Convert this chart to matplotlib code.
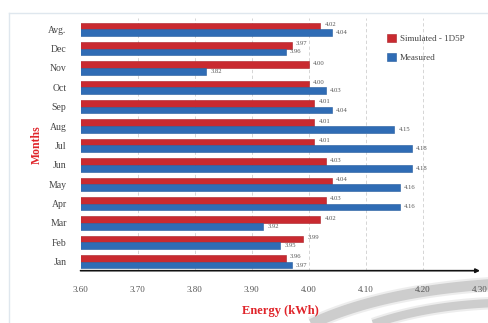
import numpy as np
import matplotlib
matplotlib.use("Agg")
import matplotlib.pyplot as plt
from matplotlib.patches import Patch

months = ["Jan", "Feb", "Mar", "Apr", "May", "Jun", "Jul", "Aug", "Sep", "Oct", "Nov", "Dec", "Avg."]
simulated = [3.96, 3.99, 4.02, 4.03, 4.04, 4.03, 4.01, 4.01, 4.01, 4.00, 4.00, 3.97, 4.02]
measured = [3.97, 3.95, 3.92, 4.16, 4.16, 4.18, 4.18, 4.15, 4.04, 4.03, 3.82, 3.96, 4.04]
xticks = [3.60, 3.70, 3.80, 3.90, 4.00, 4.10, 4.20, 4.30]

W, H = 489, 323
fig = plt.figure(figsize=(W / 100, H / 100), dpi=100)
fig.patch.set_facecolor("white")

serif = ["Liberation Serif", "DejaVu Serif"]

# background layer in pixel coordinates: frame lines and grey swooshes
bg = fig.add_axes([0, 0, 1, 1], zorder=0)
bg.set_xlim(0, W)
bg.set_ylim(H, 0)
bg.axis("off")
bg.plot([9, 9], [13, H], color="#dfe7ee", lw=1.0)
bg.plot([9, W], [13, 13], color="#dfe7ee", lw=1.0)


def swoosh(p0, p1, p2, lw):
    t = np.linspace(0, 1, 80)
    x = (1 - t) ** 2 * p0[0] + 2 * (1 - t) * t * p1[0] + t ** 2 * p2[0]
    y = (1 - t) ** 2 * p0[1] + 2 * (1 - t) * t * p1[1] + t ** 2 * p2[1]
    for extra, alpha in ((3, 0.35), (0, 1.0)):
        bg.plot(x, y, color="#cdcdcd", lw=lw + extra, alpha=alpha, solid_capstyle="butt")


swoosh((292, 334), (365, 292), (495, 284), 7.5)
swoosh((348, 334), (410, 306), (495, 303), 6)

ax = fig.add_axes([80.5 / W, (H - 270.7) / H, 399.5 / W, 252.7 / H], zorder=1)
ax.patch.set_alpha(0)

y = np.arange(len(months))
h = 0.345
red = "#c92a30"
blue = "#2f6cb5"
ax.barh(y + h / 2, simulated, height=h, color=red, edgecolor="#a81f24", lw=0.4,
        label="Simulated - 1D5P", zorder=3)
ax.barh(y - h / 2, measured, height=h, color=blue, edgecolor="#245a9c", lw=0.4,
        label="Measured", zorder=3)

for yi, s, m in zip(y, simulated, measured):
    ax.annotate(f"{s:.2f}", (s, yi + h / 2), xytext=(3, 1), textcoords="offset points",
                fontsize=4.8, color="#555555", va="center", ha="left", family=serif)
    ax.annotate(f"{m:.2f}", (m, yi - h / 2), xytext=(3, 0), textcoords="offset points",
                fontsize=4.8, color="#555555", va="center", ha="left", family=serif)

ax.set_xlim(3.60, 4.30)
ax.set_ylim(-0.465, len(months) - 1 + 0.58)
ax.set_xticks(xticks)
ax.set_xticklabels([f"{v:.2f}" for v in xticks], family=serif, fontsize=6.5, color="#555555")
ax.set_yticks(y)
ax.set_yticklabels(months, family=serif, fontsize=7, color="#444444")
ax.tick_params(axis="x", length=0, pad=11)
ax.tick_params(axis="y", length=0, pad=10)
for sp in ax.spines.values():
    sp.set_visible(False)
ax.grid(axis="x", color="#cfcfcf", ls=(0, (4, 3)), lw=0.6, zorder=0)
ax.set_axisbelow(True)

# horizontal axis with arrow head
ax.annotate("", xy=(1.0, 0), xytext=(0, 0), xycoords="axes fraction",
            textcoords="axes fraction",
            arrowprops=dict(arrowstyle="-|>", color="#111111", lw=1.2,
                            mutation_scale=6, shrinkA=0, shrinkB=0), zorder=4)

ax.set_xlabel("Energy (kWh)", family=serif, fontsize=9, fontweight="bold", color="#e0242a",
              labelpad=8)
ax.set_ylabel("Months", family=serif, fontsize=8.5, fontweight="bold", color="#e0242a",
              labelpad=4)

handles = [Patch(facecolor=red, edgecolor="#a81f24", lw=0.4),
           Patch(facecolor=blue, edgecolor="#245a9c", lw=0.4)]
fig.legend(handles, ["Simulated - 1D5P", "Measured"], loc="upper left",
           bbox_to_anchor=(379 / W, 1 - 26 / H), frameon=False,
           prop={"family": serif, "size": 6.5}, labelcolor="#444444",
           handlelength=1.0, handleheight=1.0, handletextpad=0.4, labelspacing=1.1)

fig.savefig("out.png", dpi=100, facecolor="white")
